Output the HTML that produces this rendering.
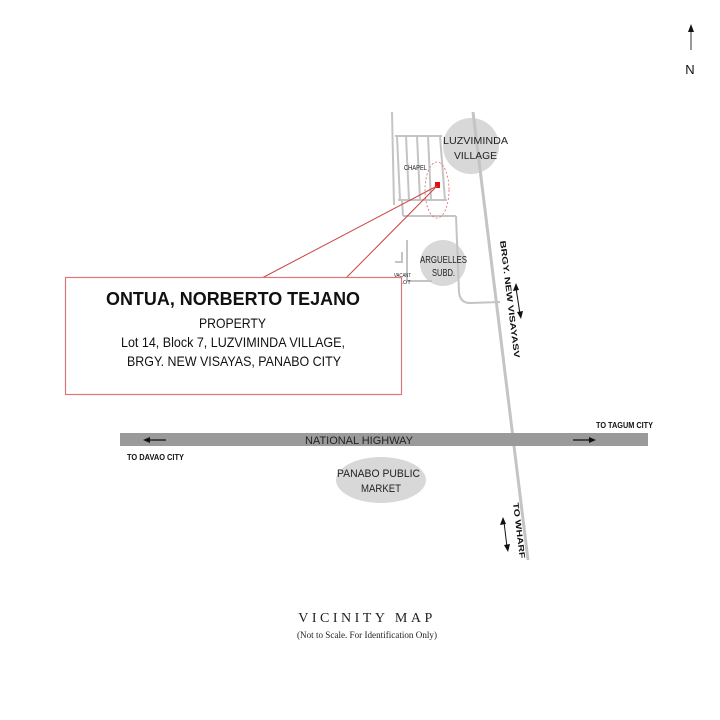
<!DOCTYPE html>
<html><head><meta charset="utf-8"><style>
html,body{margin:0;padding:0;background:#fff;}
svg{display:block;}
.n{font-family:"Liberation Sans Narrow","Liberation Sans",sans-serif;}
</style></head><body>
<svg width="720" height="720" viewBox="0 0 720 720" xmlns="http://www.w3.org/2000/svg">
<rect width="720" height="720" fill="#fff"/>
<line x1="691" y1="50" x2="691" y2="30" stroke="#555" stroke-width="1.2"/>
<polygon points="688,32 694,32 691,24" fill="#111"/>
<text x="690" y="74" font-family="Liberation Sans" font-size="13" text-anchor="middle" fill="#111">N</text>
<circle cx="471" cy="146" r="28" fill="#d8d8d8"/>
<circle cx="443" cy="263" r="23" fill="#d8d8d8"/>
<ellipse cx="381" cy="480" rx="45" ry="23" fill="#d8d8d8"/>
<g stroke="#c4c4c4" stroke-width="2" fill="none">
<line x1="392" y1="112" x2="394" y2="205"/>
<line x1="395" y1="136" x2="442" y2="136"/>
<line x1="397" y1="136" x2="400" y2="200"/>
<line x1="406" y1="136" x2="409" y2="200"/>
<line x1="417" y1="136" x2="420" y2="200"/>
<line x1="428" y1="136" x2="431" y2="200"/>
<line x1="440" y1="136" x2="445" y2="200"/>
<line x1="398" y1="200" x2="447" y2="200"/>
<line x1="402" y1="200" x2="403" y2="216"/>
<line x1="403" y1="216" x2="456" y2="216"/>
<path d="M456 216 L459 292 Q460 303 470 303 L500 302"/>
<line x1="407" y1="240" x2="407" y2="280"/>
<path d="M395 262 L402 262 L402 252"/>
<line x1="407" y1="281" x2="432" y2="281"/>
</g>
<line x1="473" y1="112" x2="528" y2="560" stroke="#c4c4c4" stroke-width="3"/>
<rect x="120" y="433" width="528" height="13" fill="#9a9a9a"/>
<text x="305" y="444" class="n" font-size="11" fill="#222" textLength="108" lengthAdjust="spacingAndGlyphs">NATIONAL HIGHWAY</text>
<line x1="148" y1="440" x2="166" y2="440" stroke="#111" stroke-width="1.2"/>
<polygon points="143,440 150,437 150,443" fill="#111"/>
<line x1="573" y1="440" x2="591" y2="440" stroke="#111" stroke-width="1.2"/>
<polygon points="596,440 589,437 589,443" fill="#111"/>
<text x="596" y="428" class="n" font-size="8" font-weight="bold" fill="#111" textLength="57" lengthAdjust="spacingAndGlyphs">TO TAGUM CITY</text>
<text x="127" y="460" class="n" font-size="8" font-weight="bold" fill="#111" textLength="57" lengthAdjust="spacingAndGlyphs">TO DAVAO CITY</text>
<text x="443" y="144" class="n" font-size="10" fill="#222" textLength="65" lengthAdjust="spacingAndGlyphs">LUZVIMINDA</text>
<text x="454" y="159" class="n" font-size="10" fill="#222" textLength="43" lengthAdjust="spacingAndGlyphs">VILLAGE</text>
<text x="420" y="263" class="n" font-size="10" fill="#222" textLength="47" lengthAdjust="spacingAndGlyphs">ARGUELLES</text>
<text x="432" y="276" class="n" font-size="10" fill="#222" textLength="23" lengthAdjust="spacingAndGlyphs">SUBD.</text>
<text x="337" y="477" class="n" font-size="11" fill="#222" textLength="83" lengthAdjust="spacingAndGlyphs">PANABO PUBLIC</text>
<text x="361" y="492" class="n" font-size="11" fill="#222" textLength="40" lengthAdjust="spacingAndGlyphs">MARKET</text>
<text x="404" y="170" class="n" font-size="7" fill="#222" textLength="23" lengthAdjust="spacingAndGlyphs">CHAPEL</text>
<text x="394" y="277" class="n" font-size="5.5" fill="#222" textLength="17" lengthAdjust="spacingAndGlyphs">VACANT</text>
<text x="400" y="284" class="n" font-size="5.5" fill="#222">LOT</text>
<text transform="translate(500,241) rotate(83)" class="n" font-size="8" font-weight="bold" fill="#111" textLength="118" lengthAdjust="spacingAndGlyphs">BRGY. NEW VISAYASV</text>
<text transform="translate(513,503) rotate(83)" class="n" font-size="8" font-weight="bold" fill="#111" textLength="56" lengthAdjust="spacingAndGlyphs">TO WHARF</text>
<line x1="516" y1="288" x2="520" y2="314" stroke="#111" stroke-width="1"/>
<polygon points="516,283 513,291 519,290" fill="#111"/>
<polygon points="521,319 517,312 523,311" fill="#111"/>
<line x1="504" y1="522" x2="507" y2="547" stroke="#111" stroke-width="1"/>
<polygon points="503,517 500,525 506,524" fill="#111"/>
<polygon points="508,552 504,545 510,544" fill="#111"/>
<ellipse cx="437" cy="190" rx="12" ry="28" fill="none" stroke="#d66" stroke-width="0.8" stroke-dasharray="2,2"/>
<rect x="435" y="182" width="5" height="6" fill="#e01010"/>
<line x1="437" y1="186" x2="262" y2="278" stroke="#c44" stroke-width="1"/>
<line x1="437" y1="186" x2="346" y2="278" stroke="#c44" stroke-width="1"/>
<rect x="65.5" y="277.5" width="336" height="117" fill="#fff" stroke="#d9777a" stroke-width="1.2"/>
<text x="106" y="305" class="n" font-size="18" font-weight="bold" fill="#111" textLength="254" lengthAdjust="spacingAndGlyphs">ONTUA, NORBERTO TEJANO</text>
<text x="199" y="328" class="n" font-size="14" fill="#111" textLength="67" lengthAdjust="spacingAndGlyphs">PROPERTY</text>
<text x="121" y="347" class="n" font-size="14" fill="#111" textLength="224" lengthAdjust="spacingAndGlyphs">Lot 14, Block 7, LUZVIMINDA VILLAGE,</text>
<text x="127" y="366" class="n" font-size="14" fill="#111" textLength="214" lengthAdjust="spacingAndGlyphs">BRGY. NEW VISAYAS, PANABO CITY</text>
<text x="367" y="622" font-family="Liberation Serif" font-size="14" letter-spacing="3.5" text-anchor="middle" fill="#222">VICINITY MAP</text>
<text x="367" y="638" font-family="Liberation Serif" font-size="9.5" text-anchor="middle" fill="#222" textLength="140" lengthAdjust="spacingAndGlyphs">(Not to Scale. For Identification Only)</text>
</svg>
</body></html>
